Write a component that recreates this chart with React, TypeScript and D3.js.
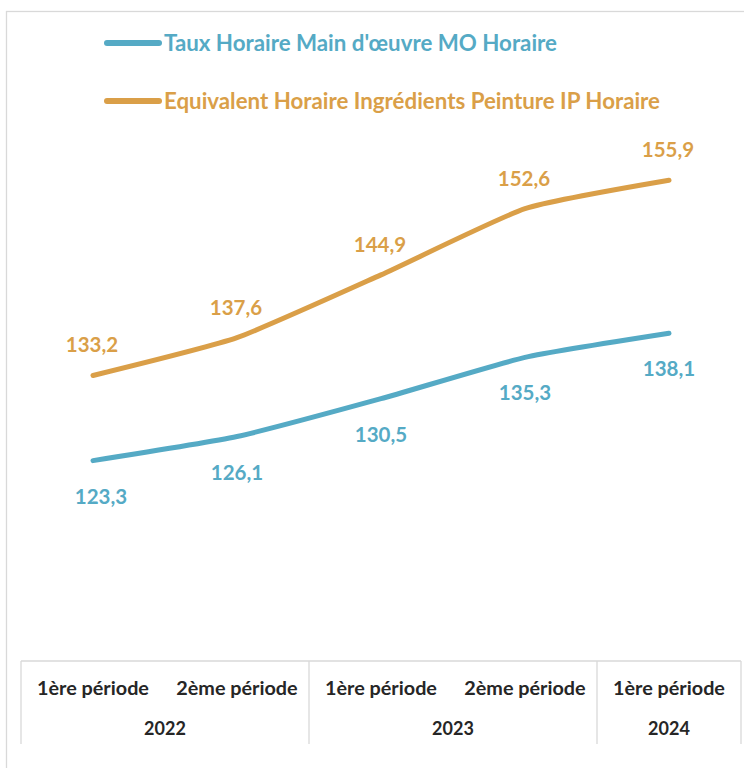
import * as d3 from "d3";
import React from "react";

const periods = ["1ère période", "2ème période", "1ère période", "2ème période", "1ère période"];
const years = ["2022", "2023", "2024"];
const yearOf = [0, 0, 1, 1, 2];

const moLabel = "Taux Horaire Main d'œuvre MO Horaire";
const ipLabel = "Equivalent Horaire Ingrédients Peinture IP Horaire";
const moValues = [123.3, 126.1, 130.5, 135.3, 138.1];
const ipValues = [133.2, 137.6, 144.9, 152.6, 155.9];

const width = 744;
const height = 768;
const BLUE = "#55AAC5";
const ORANGE = "#DA9F48";
const AXIS = "#D9D9D9";
const TEXT = "#262626";
const FONT = "Lato, 'Open Sans', sans-serif";

const plot = { left: 21, right: 741, top: 145, bottom: 661 };

const x = d3
  .scaleBand<number>()
  .domain(d3.range(periods.length))
  .range([plot.left, plot.right]);
const cx = (i: number) => x(i)! + x.bandwidth() / 2;
const y = d3.scaleLinear().domain([100, 160]).range([plot.bottom, plot.top]);

const line = d3
  .line<number>()
  .x((_, i) => cx(i))
  .y((d) => y(d))
  .curve(d3.curveCardinal.tension(0.5));

const fmt = (v: number) => v.toFixed(1).replace(".", ",");

// year groups: first/last category index of each year
const groups = years.map((yr, g) => {
  const idx = yearOf.map((v, i) => (v === g ? i : -1)).filter((i) => i >= 0);
  return { yr, x0: x(idx[0])!, x1: x(idx[idx.length - 1])! + x.bandwidth() };
});

export default function App() {
  const series = [
    { name: moLabel, values: moValues, color: BLUE, dy: 43 },
    { name: ipLabel, values: ipValues, color: ORANGE, dy: -23 },
  ];
  return (
    <div style={{ position: "absolute", left: 0, top: 0 }}>
      <svg width={width} height={height} viewBox={`0 0 ${width} ${height}`} style={{ display: "block", background: "white" }}>
        <rect x={6.5} y={11.5} width={800} height={800} fill="white" stroke={AXIS} strokeWidth={1.3} />

        {/* legend */}
        {series.map((s, k) => (
          <g key={s.name} transform={`translate(105, ${43 + k * 58})`}>
            <line x1={2} x2={54} y1={0} y2={0} stroke={s.color} strokeWidth={6} strokeLinecap="round" />
            <text x={59} y={8} fill={s.color} fontFamily={FONT} fontWeight={700} fontSize={22.3}>
              {s.name}
            </text>
          </g>
        ))}

        {/* lines */}
        {series.map((s) => (
          <path key={s.name} d={line(s.values)!} fill="none" stroke={s.color} strokeWidth={5} strokeLinecap="round" />
        ))}

        {/* data labels */}
        {series.map((s) =>
          s.values.map((v, i) => (
            <text
              key={s.name + i}
              x={s.dy > 0 ? Math.max(cx(i), plot.left + 80) : cx(i) - 1}
              y={y(v) + s.dy}
              textAnchor="middle"
              fill={s.color}
              fontFamily={FONT}
              fontWeight={700}
              fontSize={20.5}
            >
              {fmt(v)}
            </text>
          ))
        )}

        {/* category axis table */}
        <line x1={plot.left} x2={plot.right} y1={plot.bottom} y2={plot.bottom} stroke={AXIS} strokeWidth={1.3} />
        {[groups[0].x0, ...groups.map((g) => g.x1)].map((gx, i) => (
          <line key={i} x1={gx} x2={gx} y1={plot.bottom} y2={744} stroke={AXIS} strokeWidth={1.3} />
        ))}
        {periods.map((p, i) => (
          <text key={i} x={cx(i)} y={695} textAnchor="middle" fill={TEXT} fontFamily={FONT} fontWeight={700} fontSize={19.8}>
            {p}
          </text>
        ))}
        {groups.map((g) => (
          <text key={g.yr} x={(g.x0 + g.x1) / 2} y={735} textAnchor="middle" fill={TEXT} fontFamily={FONT} fontWeight={700} fontSize={18}>
            {g.yr}
          </text>
        ))}
      </svg>
    </div>
  );
}
